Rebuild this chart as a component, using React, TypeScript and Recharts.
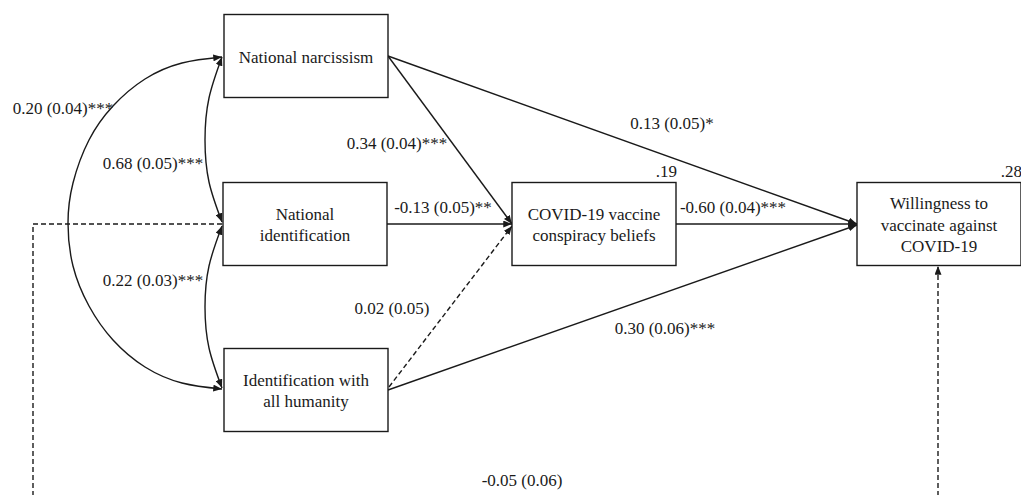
import React from 'react';
import { ScatterChart, Scatter, XAxis, YAxis } from 'recharts';

const W = 1021;
const H = 495;
const INK = '#1a1a1a';
const FONT = 'Liberation Serif';

// boxes of the path model (centre of each box in diagram units)
const nodeLines = [
  ['National narcissism'],
  ['National', 'identification'],
  ['Identification with', 'all humanity'],
  ['COVID-19 vaccine', 'conspiracy beliefs'],
  ['Willingness to', 'vaccinate against', 'COVID-19'],
];
const nodeR2 = ['', '', '', '.19', '.28'];
const nodeX = [306, 305, 306, 594, 939];
const nodeY = [56, 224, 390, 224, 224];

// directed paths: coefficient (SE), route, significance
const pathCoef = [
  '0.34 (0.04)***',
  '0.13 (0.05)*',
  '-0.13 (0.05)**',
  '0.02 (0.05)',
  '0.30 (0.06)***',
  '-0.60 (0.04)***',
  '-0.05 (0.06)',
];
const pathRoute = [
  [[388, 56], [512, 224]],
  [[388, 56], [857, 224]],
  [[387, 224], [512, 224]],
  [[389, 387], [512, 226]],
  [[388, 390], [857, 225]],
  [[675, 224], [857, 224]],
  [[222, 224], [33, 224], [33, 525], [938, 525], [938, 266]],
];
const pathDashed = [false, false, false, true, false, false, true];
const pathLabelX = [397, 672, 443, 392, 665, 733, 522];
const pathLabelY = [143, 123, 207, 308, 328, 207, 480];

// covariances between predictors (double-headed arcs)
const covCoef = ['0.68 (0.05)***', '0.22 (0.03)***', '0.20 (0.04)***'];
const covRoute = [
  [[222, 57], [209, 98], [205, 140], [209, 182], [222, 222]],
  [[222, 226], [209, 266], [205, 307], [209, 348], [222, 388]],
  [
    [222, 57], [182, 63], [145, 79], [113, 106], [89, 140], [73, 183], [68, 223],
    [73, 266], [89, 306], [113, 340], [145, 367], [182, 383], [222, 389],
  ],
];
const covLabelX = [153, 153, 63];
const covLabelY = [163, 280, 108];

const BOX_W = 164;
const BOX_H = 83;
const LINE_H = 21.5;

const toPts = (route: number[][]) => route.map(([x, y]) => ({ x, y }));

const nodes = nodeLines.map((lines, i) => ({ x: nodeX[i], y: nodeY[i], lines, r2: nodeR2[i] }));
const labels = [
  ...pathCoef.map((text, i) => ({ x: pathLabelX[i], y: pathLabelY[i], text })),
  ...covCoef.map((text, i) => ({ x: covLabelX[i], y: covLabelY[i], text })),
];

const Empty = () => <g />;

const T = (p: { x: number; y: number; anchor?: string; children: React.ReactNode }) => (
  <text
    x={p.x}
    y={p.y}
    textAnchor={p.anchor || 'middle'}
    dominantBaseline="central"
    fontFamily={FONT}
    fontSize={17}
    fill={INK}
  >
    {p.children}
  </text>
);

const NodeBox = (props: any) => {
  const { cx, cy, payload } = props;
  const lines: string[] = payload.lines;
  const y0 = cy + 1 - ((lines.length - 1) * LINE_H) / 2;
  return (
    <g>
      <rect
        x={cx - BOX_W / 2}
        y={cy - BOX_H / 2}
        width={BOX_W}
        height={BOX_H}
        fill="#fff"
        stroke={INK}
        strokeWidth={1.4}
      />
      {lines.map((t, i) => (
        <T key={i} x={cx} y={y0 + i * LINE_H}>
          {t}
        </T>
      ))}
      {payload.r2 ? (
        <T x={cx + BOX_W / 2 + 1} y={cy - BOX_H / 2 - 11} anchor="end">
          {payload.r2}
        </T>
      ) : null}
    </g>
  );
};

const Label = (props: any) => {
  const { cx, cy, payload } = props;
  return (
    <T x={cx} y={cy}>
      {payload.text}
    </T>
  );
};

export default function App() {
  return (
    <div
      style={{ position: 'absolute', left: 0, top: 0, width: W, height: H, background: '#fff', fontFamily: FONT }}
    >
      <ScatterChart width={W} height={H} margin={{ top: 0, right: 0, bottom: 0, left: 0 }} style={{ fontFamily: FONT }}>
        <defs>
          <marker
            id="arrow"
            viewBox="0 0 10 8"
            refX={10}
            refY={4}
            markerWidth={9}
            markerHeight={7}
            markerUnits="userSpaceOnUse"
            orient="auto-start-reverse"
          >
            <path d="M0,0 L10,4 L0,8 z" fill={INK} />
          </marker>
        </defs>
        <XAxis type="number" dataKey="x" domain={[0, W]} hide allowDataOverflow />
        <YAxis type="number" dataKey="y" domain={[0, H]} reversed hide allowDataOverflow />
        {covRoute.map((r, i) => (
          <Scatter
            key={'c' + i}
            data={toPts(r)}
            line={{ stroke: INK, strokeWidth: 1.4, fill: 'none', markerStart: 'url(#arrow)', markerEnd: 'url(#arrow)' }}
            lineJointType="natural"
            shape={Empty}
            isAnimationActive={false}
          />
        ))}
        {pathRoute.map((r, i) => (
          <Scatter
            key={'p' + i}
            data={toPts(r)}
            line={{
              stroke: INK,
              strokeWidth: 1.4,
              fill: 'none',
              strokeDasharray: pathDashed[i] ? '5 3' : undefined,
              markerEnd: 'url(#arrow)',
            }}
            lineJointType="linear"
            shape={Empty}
            isAnimationActive={false}
          />
        ))}
        <Scatter data={nodes} shape={NodeBox} isAnimationActive={false} />
        <Scatter data={labels} shape={Label} isAnimationActive={false} />
      </ScatterChart>
    </div>
  );
}
